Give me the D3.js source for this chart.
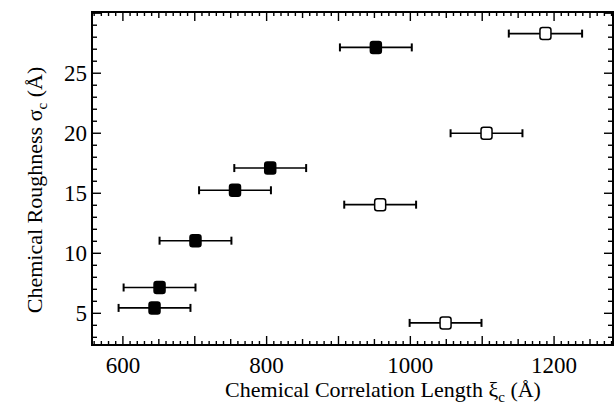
<!DOCTYPE html>
<html>
<head>
<meta charset="utf-8">
<script src="https://cdn.jsdelivr.net/npm/d3@7"></script>
<style>
  body { margin: 0; background: #fff; }
</style>
</head>
<body>
<div id="chart"></div>
<script>
// filled squares
var filledX = [644, 651, 701, 756, 805, 952];
var filledY = [5.45, 7.15, 11.05, 15.25, 17.1, 27.15];
var filledErr = [50, 50, 50, 50, 50, 50];
// open squares
var openX = [1049, 958, 1106, 1188];
var openY = [4.2, 14.05, 20.0, 28.3];
var openErr = [50, 50, 50, 51];

var xTicks = [600, 800, 1000, 1200];
var yTicks = [5, 10, 15, 20, 25];

var W = 616, H = 411;
var m = {left: 92, right: 3, top: 12, bottom: 66};
var serif = "'Liberation Serif', 'Times New Roman', Times, serif";

var svg = d3.select("#chart").append("svg")
    .attr("width", W)
    .attr("height", H)
    .style("font-family", serif);

var x = d3.scaleLinear().domain([557, 1282]).range([m.left, W - m.right]);
var y = d3.scaleLinear().domain([2.36, 30.1]).range([H - m.bottom, m.top]);

var x0 = x.range()[0], x1 = x.range()[1];
var y0 = y.range()[0], y1 = y.range()[1];

// tick marks, pointing inward, on all four sides
var xMinor = d3.range(560, 1281, 10);
var yMinor = d3.range(3, 31, 1);

function xLen(v) { return v % 100 === 0 ? 9 : (v % 50 === 0 ? 6 : 4); }
function yLen(v) { return v % 5 === 0 ? 9 : 5; }

var ticks = svg.append("g").attr("stroke", "#000").attr("stroke-width", 1.4);

ticks.selectAll(".xb").data(xMinor).enter().append("line")
    .attr("x1", function(d) { return x(d); })
    .attr("x2", function(d) { return x(d); })
    .attr("y1", y0)
    .attr("y2", function(d) { return y0 - xLen(d); });
ticks.selectAll(".xt").data(xMinor).enter().append("line")
    .attr("x1", function(d) { return x(d); })
    .attr("x2", function(d) { return x(d); })
    .attr("y1", y1)
    .attr("y2", function(d) { return y1 + xLen(d); });
ticks.selectAll(".yl").data(yMinor).enter().append("line")
    .attr("y1", function(d) { return y(d); })
    .attr("y2", function(d) { return y(d); })
    .attr("x1", x0)
    .attr("x2", function(d) { return x0 + yLen(d); });
ticks.selectAll(".yr").data(yMinor).enter().append("line")
    .attr("y1", function(d) { return y(d); })
    .attr("y2", function(d) { return y(d); })
    .attr("x1", x1)
    .attr("x2", function(d) { return x1 - yLen(d); });

// frame
svg.append("rect")
    .attr("x", x0).attr("y", y1)
    .attr("width", x1 - x0).attr("height", y0 - y1)
    .attr("fill", "none").attr("stroke", "#000").attr("stroke-width", 2);

// tick labels
svg.selectAll(".xl").data(xTicks).enter().append("text")
    .attr("x", function(d) { return x(d); })
    .attr("y", y0 + 28)
    .attr("text-anchor", "middle")
    .attr("font-size", 23)
    .text(function(d) { return d; });

svg.selectAll(".ylab").data(yTicks).enter().append("text")
    .attr("x", x0 - 5)
    .attr("y", function(d) { return y(d) + 8; })
    .attr("text-anchor", "end")
    .attr("font-size", 23)
    .text(function(d) { return d; });

// axis titles
var xt = svg.append("text")
    .attr("x", 383).attr("y", 397)
    .attr("text-anchor", "middle")
    .attr("font-size", 22);
xt.append("tspan").text("Chemical Correlation Length \u03BE");
xt.append("tspan").attr("font-size", 15).attr("dy", 5).text("c");
xt.append("tspan").attr("dy", -5).text(" (\u00C5)");

var yt = svg.append("text")
    .attr("transform", "translate(42,190) rotate(-90)")
    .attr("text-anchor", "middle")
    .attr("font-size", 22);
yt.append("tspan").text("Chemical Roughness \u03C3");
yt.append("tspan").attr("font-size", 15).attr("dy", 5).text("c");
yt.append("tspan").attr("dy", -5).text(" (\u00C5)");

// points with horizontal error bars
function series(xs, ys, es, fill) {
  var data = xs.map(function(v, i) { return {x: v, y: ys[i], e: es[i]}; });
  var g = svg.append("g");
  var cap = 4;
  g.selectAll(".eb").data(data).enter().append("line")
      .attr("x1", function(d) { return x(d.x - d.e); })
      .attr("x2", function(d) { return x(d.x + d.e); })
      .attr("y1", function(d) { return y(d.y); })
      .attr("y2", function(d) { return y(d.y); })
      .attr("stroke", "#000").attr("stroke-width", 1.6);
  g.selectAll(".cl").data(data).enter().append("line")
      .attr("x1", function(d) { return x(d.x - d.e); })
      .attr("x2", function(d) { return x(d.x - d.e); })
      .attr("y1", function(d) { return y(d.y) - cap; })
      .attr("y2", function(d) { return y(d.y) + cap; })
      .attr("stroke", "#000").attr("stroke-width", 2);
  g.selectAll(".cr").data(data).enter().append("line")
      .attr("x1", function(d) { return x(d.x + d.e); })
      .attr("x2", function(d) { return x(d.x + d.e); })
      .attr("y1", function(d) { return y(d.y) - cap; })
      .attr("y2", function(d) { return y(d.y) + cap; })
      .attr("stroke", "#000").attr("stroke-width", 2);
  g.selectAll(".pt").data(data).enter().append("rect")
      .attr("x", function(d) { return x(d.x) - 5.5; })
      .attr("y", function(d) { return y(d.y) - 6; })
      .attr("width", 11).attr("height", 12)
      .attr("rx", 2.5)
      .attr("fill", fill)
      .attr("stroke", "#000").attr("stroke-width", 1.5);
}

series(filledX, filledY, filledErr, "#000");
series(openX, openY, openErr, "#fff");
</script>
</body>
</html>
